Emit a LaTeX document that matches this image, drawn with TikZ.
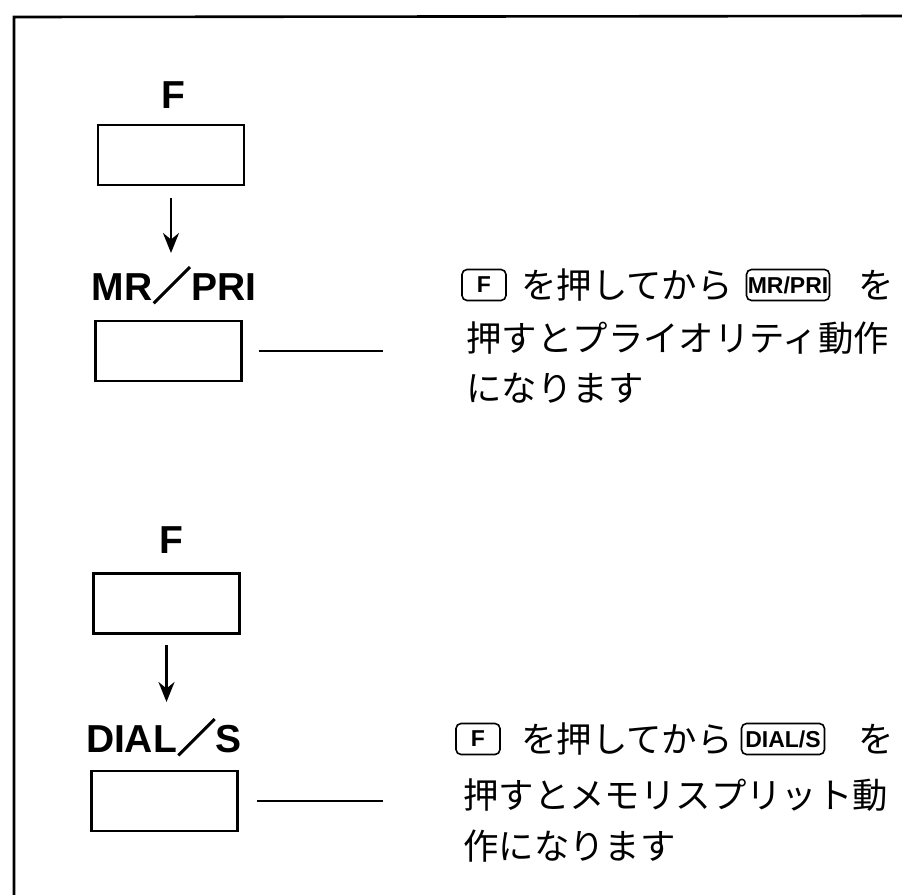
\documentclass[tikz,border=0pt]{standalone}
\usepackage{fontspec}
\setsansfont{Liberation Sans}
\newfontfamily\cjk{Noto Sans CJK JP}
\newfontfamily\cjkbold[FakeBold=2.5]{Noto Sans CJK JP}
\usetikzlibrary{arrows.meta}
\begin{document}
\begin{tikzpicture}[x=0.5pt,y=-0.5pt,
  keybox/.style={draw,line width=1.4pt,minimum width=73pt,minimum height=30pt,inner sep=0pt},
  keylabel/.style={font=\sffamily\bfseries\fontsize{19.5}{20}\selectfont,inner sep=0pt,anchor=base},
  jp/.style={font=\cjk\fontsize{17.7}{18}\selectfont,anchor=west,inner sep=0pt},
  keycap/.style={draw,line width=0.8pt,rounded corners=2.5pt,inner xsep=0.6pt,inner ysep=0pt,minimum height=15.5pt,font=\sffamily\bfseries\fontsize{11.5}{12}\selectfont},
  flow/.style={-{Stealth[length=10pt,width=8pt]},line width=1.3pt},
  lead/.style={line width=0.9pt},
  frame/.style={line width=1.3pt}]
\useasboundingbox (0,0) rectangle (902,895);
\draw[frame] (14,895) -- (14,17) -- (902,16);

% upper group
\node[keylabel] (f1) at (173,108) {F};
\node[keybox] (b1) at (171,155) {};
\node[keylabel] (m1) at (174,300) {MR{\cjkbold ／}PRI};
\node[keybox] (b2) at (168.5,351) {};
\coordinate (a1e) at (172,253);
\draw[flow,shorten <=6pt] (b1.south) -- (b1.south |- a1e);
\coordinate (l1) at (383,349);
\draw[lead,shorten <=8pt] (b2.east) -- (b2.east -| l1);

% lower group
\node[keylabel] (f2) at (171,553) {F};
\node[keybox] (b3) at (166.5,603.5) {};
\node[keylabel] (d1) at (164,752) {DIAL{\cjkbold ／}S};
\node[keybox] (b4) at (164.5,801) {};
\coordinate (a2e) at (165,702);
\draw[flow,shorten <=5pt] (b3.south) -- (b3.south |- a2e);
\coordinate (l2) at (383,801);
\draw[lead,shorten <=9pt] (b4.east) -- (b4.east -| l2);

% upper text
\node[keycap,minimum width=22pt] (k1) at (484,285) {F};
\node[jp] (t1) at (521,285) {を押してから};
\node[keycap,minimum width=41.5pt] (k2) at (788,285) {MR/PRI};
\node[jp] (t2) at (858,285) {を};
\node[jp] (t3) at (466,338) {押すとプライオリティ動作};
\node[jp] (t4) at (466,388) {になります};

% lower text
\node[keycap,minimum width=22pt] (k3) at (478,739) {F};
\node[jp] (t5) at (521,739) {を押してから};
\node[keycap,minimum width=41.5pt] (k4) at (783,739) {DIAL/S};
\node[jp] (t6) at (858,739) {を};
\node[jp] (t7) at (463,795) {押すとメモリスプリット動};
\node[jp] (t8) at (463,846) {作になります};
\end{tikzpicture}
\end{document}
